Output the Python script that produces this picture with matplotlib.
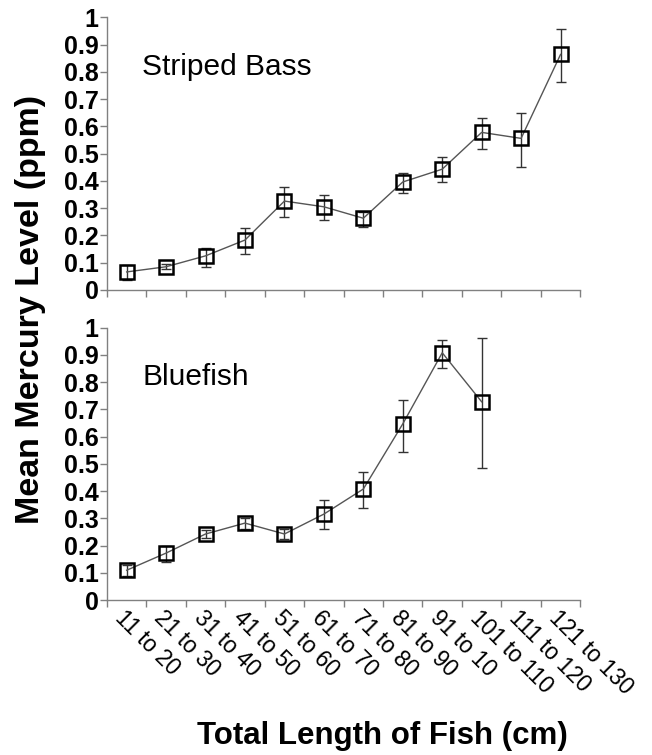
import matplotlib
matplotlib.use("Agg")
import matplotlib.pyplot as plt
import numpy as np

plt.rcParams['font.family'] = ['Liberation Sans', 'DejaVu Sans']

# length classes (cm)
labels = ["11 to 20", "21 to 30", "31 to 40", "41 to 50", "51 to 60", "61 to 70",
          "71 to 80", "81 to 90", "91 to 10", "101 to 110", "111 to 120", "121 to 130"]

# striped bass means and error bars (low / high)
bass_mean = [0.066, 0.085, 0.125, 0.183, 0.326, 0.305, 0.263, 0.396, 0.443, 0.578, 0.556, 0.864]
bass_lo = [0.035, 0.075, 0.085, 0.132, 0.268, 0.256, 0.231, 0.355, 0.396, 0.516, 0.450, 0.762]
bass_hi = [0.090, 0.095, 0.155, 0.227, 0.377, 0.348, 0.286, 0.429, 0.487, 0.630, 0.650, 0.956]

# bluefish means and error bars
blue_mean = [0.110, 0.173, 0.243, 0.283, 0.243, 0.316, 0.408, 0.647, 0.908, 0.728]
blue_lo = [0.090, 0.142, 0.228, 0.263, 0.223, 0.260, 0.338, 0.544, 0.853, 0.485]
blue_hi = [0.130, 0.198, 0.258, 0.303, 0.263, 0.367, 0.470, 0.735, 0.956, 0.963]

yticks = [0, 0.1, 0.2, 0.3, 0.4, 0.5, 0.6, 0.7, 0.8, 0.9, 1]
ytick_labels = ["0", "0.1", "0.2", "0.3", "0.4", "0.5", "0.6", "0.7", "0.8", "0.9", "1"]

fig = plt.figure(figsize=(6.52, 7.55), dpi=100)
ax1 = fig.add_axes([0.164, 0.616, 0.726, 0.361])
ax2 = fig.add_axes([0.164, 0.205, 0.726, 0.361])

def draw(ax, mean, lo, hi, title):
    x = np.arange(1, len(mean) + 1)
    mean = np.array(mean)
    err = [mean - np.array(lo), np.array(hi) - mean]
    ax.errorbar(x, mean, yerr=err, fmt='none', ecolor='#333333', elinewidth=1,
                capsize=3.5, capthick=1, zorder=3)
    ax.plot(x, mean, color='#555555', lw=1, marker='s', ms=10.5, mfc='none',
            mec='black', mew=1.8, zorder=4)
    ax.set_xlim(0.5, 12.5)
    ax.set_ylim(0, 1)
    ax.set_yticks(yticks)
    ax.set_yticklabels(ytick_labels, fontsize=18, fontweight='bold')
    ax.set_xticks(np.arange(0.5, 13, 1))
    ax.set_xticklabels([])
    for s in ['top', 'right']:
        ax.spines[s].set_visible(False)
    for s in ['left', 'bottom']:
        ax.spines[s].set_color('#808080')
        ax.spines[s].set_linewidth(1)
    ax.tick_params(axis='both', which='major', length=5, width=1, color='#808080', pad=1)
    ax.text(0.075, 0.79, title, transform=ax.transAxes, fontsize=21.5)

draw(ax1, bass_mean, bass_lo, bass_hi, "Striped Bass")
draw(ax2, blue_mean, blue_lo, blue_hi, "Bluefish")

# category labels at centres
ax2.set_xticks(np.arange(1, 13), minor=True)
ax2.set_xticklabels(labels, minor=True, rotation=-45, ha='left', va='top',
                    rotation_mode='anchor', fontsize=16.5)
ax2.tick_params(axis='x', which='minor', length=0, pad=4)

fig.text(0.047, 0.59, "Mean Mercury Level (ppm)", rotation=90, ha='center', va='center',
         fontsize=24.5, fontweight='bold')
fig.text(0.587, 0.025, "Total Length of Fish (cm)", ha='center', va='center',
         fontsize=22.5, fontweight='bold')

fig.savefig("out.png", dpi=100)
